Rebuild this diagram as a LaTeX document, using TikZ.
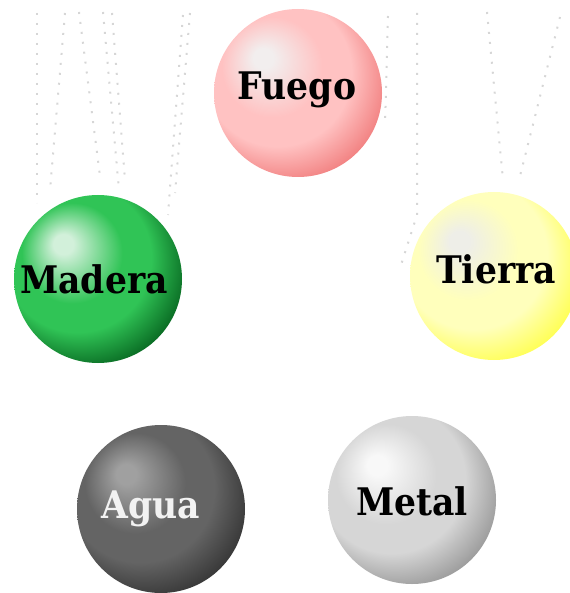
\documentclass[tikz,border=0pt]{standalone}
\usepackage{fontspec}
\newfontfamily\ballfont{DejaVu Serif}[FakeStretch=0.91]

\definecolor{fuegohi}{HTML}{F2EEEE}
\definecolor{fuegomid}{HTML}{FFC2C2}
\definecolor{fuegorim}{HTML}{F28282}
\definecolor{maderahi}{HTML}{D2F0DA}
\definecolor{maderamid}{HTML}{30C456}
\definecolor{maderarim}{HTML}{0A6C24}
\definecolor{tierrahi}{HTML}{EEEEE8}
\definecolor{tierramid}{HTML}{FFFFBC}
\definecolor{tierrarim}{HTML}{FFFF55}
\definecolor{aguahi}{HTML}{A0A0A0}
\definecolor{aguamid}{HTML}{646464}
\definecolor{aguarim}{HTML}{383838}
\definecolor{metalhi}{HTML}{F8F8F8}
\definecolor{metalmid}{HTML}{D6D6D6}
\definecolor{metalrim}{HTML}{9C9C9C}

\colorlet{ballhi}{white}
\colorlet{ballmid}{gray}
\colorlet{ballrim}{black}
% the ball rim lies at 25bp
\pgfdeclareradialshading[ballhi,ballmid,ballrim]{glossy}{\pgfqpoint{-11bp}{11bp}}{%
  color(0bp)=(ballhi); color(3bp)=(ballhi); color(15bp)=(ballmid);
  color(22bp)=(ballmid); color(31bp)=(ballrim); color(50bp)=(ballrim)}

\tikzset{
  ballhi/.code={\colorlet{ballhi}{#1}},
  ballmid/.code={\colorlet{ballmid}{#1}},
  ballrim/.code={\colorlet{ballrim}{#1}},
  sphere/.style={circle, minimum size=168pt, inner sep=0pt,
    ballhi=#1hi, ballmid=#1mid, ballrim=#1rim, shading=glossy},
  word/.style={anchor=base, inner sep=0pt,
    font=\ballfont\bfseries\fontsize{38}{42}\selectfont},
  thread/.style={draw=black!16, line width=2pt,
    dash pattern=on 2pt off 8pt}
}

\begin{document}
\begin{tikzpicture}[x=1pt,y=-1pt]
  \useasboundingbox (0,0) rectangle (569,593);

  % hanging threads
  \draw[thread] (37,13) -- (37,203);
  \draw[thread] (65,13) -- (50,190);
  \draw[thread] (79,12) -- (100,176);
  \draw[thread] (103,12) -- (119,190);
  \draw[thread] (112,13) -- (125,180);
  \draw[thread] (190,13) -- (175,193);
  \draw[thread] (183,15) -- (168,215);
  \draw[thread] (388,16) -- (385,125);
  \draw[thread] (417,13) -- (417,215) -- (401,265);
  \draw[thread] (487,12) -- (503,180);
  \draw[thread] (560,17) -- (519,180);

  % the five balls
  \node[sphere=fuego]  (fuego)  at (298,93)  {};
  \node[sphere=madera] (madera) at (98,279)  {};
  \node[sphere=tierra] (tierra) at (494,276) {};
  \node[sphere=agua]   (agua)   at (161,509) {};
  \node[sphere=metal]  (metal)  at (412,500) {};

  \node[word] (fuegolbl)  at (297,100) {Fuego};
  \node[word] (maderalbl) at (94,293)  {Madera};
  \node[word] (tierralbl) at (496,283) {Tierra};
  \node[word, text=black!5] (agualbl) at (151,518) {Agua};
  \node[word] (metallbl)  at (412,515) {Metal};
\end{tikzpicture}
\end{document}
